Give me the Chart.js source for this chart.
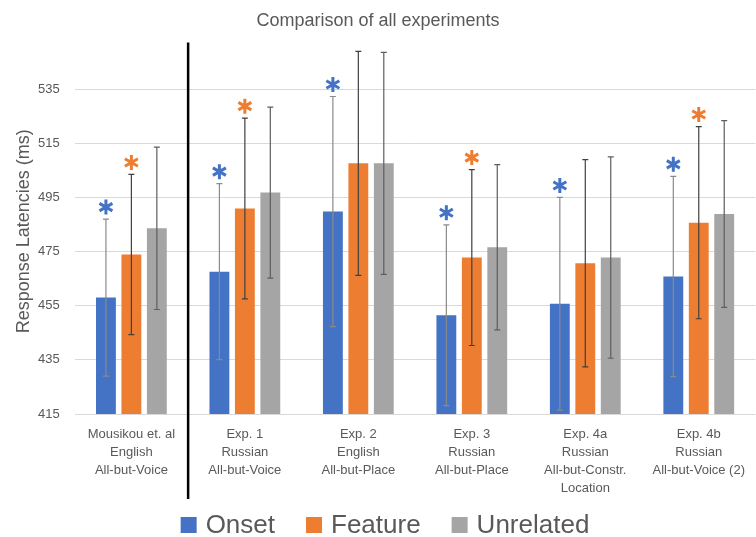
<!DOCTYPE html>
<html>
<head>
<meta charset="utf-8">
<script src="https://cdn.jsdelivr.net/npm/chart.js@4.4.1/dist/chart.umd.min.js"></script>
<style>
  html, body { margin: 0; padding: 0; background: #fff; }
  canvas { display: block; }
</style>
</head>
<body>
<canvas id="experiments" width="756" height="537"></canvas>
<script>
const categories = [
    ['Mousikou et. al', 'English', 'All-but-Voice'],
    ['Exp. 1', 'Russian', 'All-but-Voice'],
    ['Exp. 2', 'English', 'All-but-Place'],
    ['Exp. 3', 'Russian', 'All-but-Place'],
    ['Exp. 4a', 'Russian', 'All-but-Constr.', 'Location'],
    ['Exp. 4b', 'Russian', 'All-but-Voice (2)']
];

const onset = [458, 467.6, 489.8, 451.5, 455.7, 465.8];
const onsetErr = [29, 32.5, 42.5, 33.4, 39.3, 37];
const onsetSig = [true, true, true, true, true, true];

const feature = [473.9, 490.9, 507.6, 472.8, 470.7, 485.7];
const featureErr = [29.6, 33.4, 41.4, 32.5, 38.3, 35.5];
const featureSig = [true, true, false, true, false, true];

const unrelated = [483.6, 496.8, 507.6, 476.6, 472.8, 488.9];
const unrelatedErr = [30, 31.6, 41, 30.5, 37.2, 34.5];
const unrelatedSig = [false, false, false, false, false, false];

const yTicks = [415, 435, 455, 475, 495, 515, 535];
const Y_MIN = 415;
const Y_MAX = 550;

const FONT = "'Liberation Sans', Arial, sans-serif";
const TEXT = '#595959';

// error bars and the significance stars
const errorBars = {
    id: 'errorBars',
    afterDatasetsDraw(chart) {
        const ctx = chart.ctx;
        const y = chart.scales.y;
        chart.data.datasets.forEach((ds, i) => {
            const meta = chart.getDatasetMeta(i);
            meta.data.forEach((bar, j) => {
                const v = ds.data[j], e = ds.errors[j];
                const top = y.getPixelForValue(v + e);
                const bottom = y.getPixelForValue(v - e);
                ctx.save();
                ctx.strokeStyle = ds.errorColor;
                ctx.lineWidth = 1.2;
                ctx.beginPath();
                ctx.moveTo(bar.x, top); ctx.lineTo(bar.x, bottom);
                ctx.moveTo(bar.x - 3, top); ctx.lineTo(bar.x + 3, top);
                ctx.moveTo(bar.x - 3, bottom); ctx.lineTo(bar.x + 3, bottom);
                ctx.stroke();
                if (ds.sig[j]) {
                    const cy = top - 12;
                    ctx.strokeStyle = ds.backgroundColor;
                    ctx.lineWidth = 3;
                    ctx.beginPath();
                    [90, 30, 150].forEach(a => {
                        const r = a * Math.PI / 180;
                        ctx.moveTo(bar.x - 7.5 * Math.cos(r), cy - 7.5 * Math.sin(r));
                        ctx.lineTo(bar.x + 7.5 * Math.cos(r), cy + 7.5 * Math.sin(r));
                    });
                    ctx.stroke();
                }
                ctx.restore();
            });
        });
    }
};

// black separator between the reference study and the new experiments
const separator = {
    id: 'separator',
    afterDraw(chart) {
        const ctx = chart.ctx;
        const x = chart.scales.x;
        const px = (x.getPixelForValue(0) + x.getPixelForValue(1)) / 2;
        ctx.save();
        ctx.strokeStyle = '#000';
        ctx.lineWidth = 2.5;
        ctx.beginPath();
        ctx.moveTo(px, chart.chartArea.top - 6);
        ctx.lineTo(px, chart.chartArea.bottom + 85);
        ctx.stroke();
        ctx.restore();
    }
};

// big legend at the bottom
const bottomLegend = {
    id: 'bottomLegend',
    afterDraw(chart) {
        const ctx = chart.ctx;
        ctx.save();
        ctx.font = '26px ' + FONT;
        ctx.textBaseline = 'middle';
        const box = 16, gapText = 9, gapItem = 31;
        const items = chart.data.datasets.map(ds => ({
            label: ds.label, color: ds.backgroundColor,
            w: box + gapText + ctx.measureText(ds.label).width
        }));
        const total = items.reduce((s, it) => s + it.w, 0) + gapItem * (items.length - 1);
        let x = chart.width / 2 - total / 2 + 7;
        const cy = 526;
        items.forEach(it => {
            ctx.fillStyle = it.color;
            ctx.fillRect(x, cy - 9, box, box);
            ctx.fillStyle = TEXT;
            ctx.fillText(it.label, x + box + gapText, cy);
            x += it.w + gapItem;
        });
        ctx.restore();
    }
};

const canvasContext = document.getElementById('experiments').getContext('2d');
const chart = new Chart(canvasContext, {
    type: 'bar',
    data: {
        labels: categories,
        datasets: [{
            label: 'Onset',
            data: onset,
            errors: onsetErr,
            sig: onsetSig,
            backgroundColor: '#4472C4',
            errorColor: '#8a8a8a'
        }, {
            label: 'Feature',
            data: feature,
            errors: featureErr,
            sig: featureSig,
            backgroundColor: '#ED7D31',
            errorColor: '#404040'
        }, {
            label: 'Unrelated',
            data: unrelated,
            errors: unrelatedErr,
            sig: unrelatedSig,
            backgroundColor: '#A5A5A5',
            errorColor: '#5e5e5e'
        }]
    },
    options: {
        responsive: false,
        animation: false,
        categoryPercentage: 0.673,
        barPercentage: 0.78,
        layout: { padding: { left: 0, right: 0, top: 0, bottom: 29 } },
        plugins: {
            legend: { display: false },
            tooltip: { enabled: false },
            title: {
                display: true,
                text: 'Comparison of all experiments',
                color: TEXT,
                font: { family: FONT, size: 18, weight: 'normal' },
                padding: { top: 10, bottom: 17 }
            }
        },
        scales: {
            x: {
                grid: { display: false, drawTicks: false },
                border: { display: false },
                ticks: {
                    color: TEXT,
                    padding: 11,
                    maxRotation: 0,
                    autoSkip: false,
                    font: { family: FONT, size: 13, lineHeight: 18 / 13 }
                }
            },
            y: {
                min: Y_MIN,
                max: Y_MAX,
                afterBuildTicks: scale => { scale.ticks = yTicks.map(v => ({ value: v })); },
                afterFit: scale => { scale.width = 74.65; },
                grid: { color: '#d9d9d9', lineWidth: 1, drawTicks: false },
                border: { display: false },
                ticks: {
                    color: TEXT,
                    padding: 15,
                    font: { family: FONT, size: 13 }
                },
                title: {
                    display: true,
                    text: 'Response Latencies (ms)',
                    color: TEXT,
                    font: { family: FONT, size: 18 },
                    padding: { top: 13, bottom: 0 }
                }
            }
        }
    },
    plugins: [errorBars, separator, bottomLegend]
});
</script>
</body>
</html>
